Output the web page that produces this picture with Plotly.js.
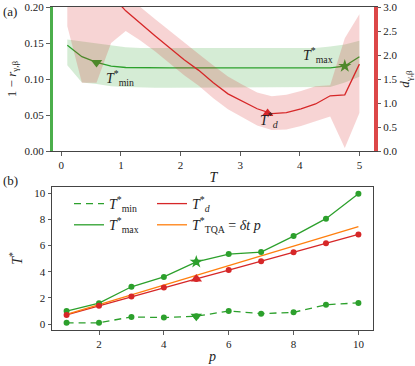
<!DOCTYPE html>
<html>
<head>
<meta charset="utf-8">
<script src="https://cdn.plot.ly/plotly-3.0.1.min.js"></script>
<style>
  html, body { margin: 0; padding: 0; background: #fff; }
  #chart { width: 415px; height: 366px; }
</style>
</head>
<body>
<div id="chart"></div>
<script>
// panel (a): grid of annealing times T
const tGrid = [0.1, 0.345, 0.59, 0.835, 1.08, 1.325, 1.57, 1.815, 2.06, 2.305, 2.55,
               2.795, 3.04, 3.285, 3.53, 3.775, 4.02, 4.265, 4.51, 4.755, 5.0];
// 1 - r (left axis)
const rMean  = [0.147, 0.131, 0.123, 0.118, 0.116, 0.1155, 0.1155, 0.1155, 0.1155, 0.1155, 0.1155,
                0.1155, 0.1155, 0.1155, 0.1155, 0.1155, 0.1155, 0.1155, 0.1155, 0.118, 0.131];
const rLow   = [0.119, 0.095, 0.093, 0.090, 0.089, 0.088, 0.088, 0.088, 0.088, 0.088, 0.088,
                0.088, 0.088, 0.088, 0.088, 0.088, 0.088, 0.088, 0.089, 0.095, 0.103];
const rHigh  = [0.155, 0.152, 0.150, 0.147, 0.144, 0.143, 0.143, 0.143, 0.143, 0.143, 0.143,
                0.143, 0.143, 0.143, 0.143, 0.143, 0.143, 0.143, 0.145, 0.148, 0.153];
// d (right axis)
const dMean  = [4.6, 4.1, 3.7, 3.25, 2.92, 2.65, 2.4, 2.15, 1.9, 1.68, 1.42,
                1.19, 1.04, 0.88, 0.78, 0.80, 0.88, 0.98, 1.15, 1.17, 1.81];
const dLow   = [2.6, 1.42, 1.42, 2.25, 2.5, 2.3, 2.08, 1.83, 1.58, 1.36, 1.1,
                0.87, 0.7, 0.53, 0.44, 0.45, 0.52, 0.62, 0.72, 0.06, 0.79];
const dHigh  = [5.2, 4.6, 4.2, 3.7, 3.3, 3.0, 2.75, 2.5, 2.25, 2.02, 1.78,
                1.55, 1.38, 1.22, 1.14, 1.17, 1.25, 1.35, 1.37, 2.35, 2.85];
const tMinPt = [0.59], rMinPt = [0.123];
const tMaxPt = [4.755], rMaxPt = [0.118];
const tDPt = [3.46], dDPt = [0.78];

// panel (b): optimal times vs depth p
const pVals   = [1, 2, 3, 4, 5, 6, 7, 8, 9, 10];
const tMinVal = [0.1, 0.1, 0.55, 0.5, 0.6, 1.0, 0.8, 0.9, 1.48, 1.62];
const tMaxVal = [1.0, 1.6, 2.85, 3.6, 4.75, 5.35, 5.5, 6.72, 8.05, 9.95];
const tDVal   = [0.7, 1.4, 2.1, 2.8, 3.45, 4.13, 4.8, 5.48, 6.17, 6.85];
const tqaP    = [1, 10];
const tqaVal  = [0.75, 7.45];
const pMark = [5];

const green = "#2ca02c", red = "#d62728", orange = "#ff7f0e";
const F = "'Liberation Serif', 'DejaVu Serif', serif";

let data = [
    { x: tGrid, y: rLow, xaxis: "x", yaxis: "y", mode: "lines", line: { width: 0 }, showlegend: false, hoverinfo: "skip" },
    { x: tGrid, y: rHigh, xaxis: "x", yaxis: "y", mode: "lines", line: { width: 0 }, fill: "tonexty",
      fillcolor: "rgba(44,160,44,0.2)", showlegend: false },
    { x: tGrid, y: dLow, xaxis: "x", yaxis: "y2", mode: "lines", line: { width: 0 }, showlegend: false },
    { x: tGrid, y: dHigh, xaxis: "x", yaxis: "y2", mode: "lines", line: { width: 0 }, fill: "tonexty",
      fillcolor: "rgba(214,39,40,0.2)", showlegend: false },
    { x: tGrid, y: rMean, xaxis: "x", yaxis: "y", mode: "lines", line: { color: green, width: 1.3 }, showlegend: false },
    { x: tGrid, y: dMean, xaxis: "x", yaxis: "y2", mode: "lines", line: { color: red, width: 1.3 }, showlegend: false },
    { x: tMinPt, y: rMinPt, xaxis: "x", yaxis: "y", mode: "markers",
      marker: { symbol: "triangle-down", size: 10, color: green }, showlegend: false },
    { x: tMaxPt, y: rMaxPt, xaxis: "x", yaxis: "y", mode: "markers",
      marker: { symbol: "star", size: 10, color: green }, showlegend: false },
    { x: tDPt, y: dDPt, xaxis: "x", yaxis: "y2", mode: "markers",
      marker: { symbol: "triangle-up", size: 10, color: red }, showlegend: false },

    // panel (b)
    { x: pVals, y: tMinVal, xaxis: "x3", yaxis: "y3", mode: "lines", name: "<i>T</i><sup>*</sup><sub>min</sub>",
      line: { color: green, width: 1.3, dash: "7px,5px" }, legend: "legend" },
    { x: pVals, y: tMaxVal, xaxis: "x3", yaxis: "y3", mode: "lines", name: "<i>T</i><sup>*</sup><sub>max</sub>",
      line: { color: green, width: 1.3 }, legend: "legend" },
    { x: pVals, y: tDVal, xaxis: "x3", yaxis: "y3", mode: "lines", name: "<i>T</i><sup>*</sup><sub><i>d</i></sub>",
      line: { color: red, width: 1.3 }, legend: "legend2" },
    { x: tqaP, y: tqaVal, xaxis: "x3", yaxis: "y3", mode: "lines", name: "<i>T</i><sup>*</sup><sub>TQA</sub> = <i>δt p</i>",
      line: { color: orange, width: 1.3 }, legend: "legend2" },
    { x: pVals, y: tMinVal, xaxis: "x3", yaxis: "y3", mode: "markers", marker: { color: green, size: 6 }, showlegend: false },
    { x: pVals, y: tMaxVal, xaxis: "x3", yaxis: "y3", mode: "markers", marker: { color: green, size: 6 }, showlegend: false },
    { x: pVals, y: tDVal, xaxis: "x3", yaxis: "y3", mode: "markers", marker: { color: red, size: 6 }, showlegend: false },
    { x: pMark, y: [tMinVal[4]], xaxis: "x3", yaxis: "y3", mode: "markers",
      marker: { symbol: "triangle-down", size: 10, color: green }, showlegend: false },
    { x: pMark, y: [tMaxVal[4]], xaxis: "x3", yaxis: "y3", mode: "markers",
      marker: { symbol: "star", size: 10, color: green }, showlegend: false },
    { x: pMark, y: [tDVal[4]], xaxis: "x3", yaxis: "y3", mode: "markers",
      marker: { symbol: "triangle-up", size: 10, color: red }, showlegend: false }
];

const axisBase = {
    showgrid: false, zeroline: false, ticks: "outside", ticklen: 3.5, tickwidth: 0.8,
    tickcolor: "#333", showline: true, linecolor: "#444", linewidth: 1,
    tickfont: { family: F, size: 11, color: "#222" }, automargin: false
};

let layout = {
    width: 415, height: 366,
    margin: { l: 0, r: 0, t: 0, b: 0 },
    paper_bgcolor: "#fff", plot_bgcolor: "#fff",
    font: { family: F, color: "#222" },
    xaxis: Object.assign({}, axisBase, {
        domain: [53 / 415, 374 / 415], anchor: "y", range: [-0.14, 5.245],
        tickvals: [0, 1, 2, 3, 4, 5], mirror: true,
        title: { text: "<i>T</i>", font: { family: F, size: 14 }, standoff: 2 }
    }),
    yaxis: Object.assign({}, axisBase, {
        domain: [1 - 151 / 366, 1 - 7 / 366], anchor: "x", range: [0, 0.2],
        tickvals: [0, 0.05, 0.1, 0.15, 0.2], tickformat: ".2f",
        linecolor: "rgba(44,160,44,0.85)", linewidth: 3.5,
        title: { text: "1 − <i>r</i><sub>γ,β</sub>", font: { family: F, size: 13 }, standoff: 6 }
    }),
    yaxis2: Object.assign({}, axisBase, {
        overlaying: "y", side: "right", anchor: "x", range: [0, 3],
        tickvals: [0, 0.5, 1, 1.5, 2, 2.5, 3], tickformat: ".1f",
        linecolor: "rgba(214,39,40,0.85)", linewidth: 3.5,
        title: { text: "<i>d</i><sub>γ,β</sub>", font: { family: F, size: 13 }, standoff: 4 }
    }),
    xaxis3: Object.assign({}, axisBase, {
        domain: [52 / 415, 373 / 415], anchor: "y3", range: [0.55, 10.45],
        tickvals: [2, 4, 6, 8, 10], mirror: true,
        title: { text: "<i>p</i>", font: { family: F, size: 14 }, standoff: 2 }
    }),
    yaxis3: Object.assign({}, axisBase, {
        domain: [1 - 330 / 366, 1 - 187 / 366], anchor: "x3", range: [-0.45, 10.47],
        tickvals: [0, 2, 4, 6, 8, 10], mirror: true,
        title: { text: "<i>T</i><sup>*</sup>", font: { family: F, size: 14 }, standoff: 8 }
    }),
    legend: {
        x: 69 / 415, y: 1 - 188 / 366, xanchor: "left", yanchor: "top", traceorder: "normal",
        bgcolor: "rgba(0,0,0,0)", font: { family: F, size: 14 }, tracegroupgap: 0
    },
    legend2: {
        x: 152 / 415, y: 1 - 188 / 366, xanchor: "left", yanchor: "top", traceorder: "normal",
        bgcolor: "rgba(0,0,0,0)", font: { family: F, size: 14 }, tracegroupgap: 0
    },
    annotations: [
        { text: "(a)", xref: "paper", yref: "paper", x: 1 / 415, y: 1 - 2 / 366, xanchor: "left", yanchor: "top",
          showarrow: false, font: { family: F, size: 13 } },
        { text: "(b)", xref: "paper", yref: "paper", x: 1 / 415, y: 1 - 171 / 366, xanchor: "left", yanchor: "top",
          showarrow: false, font: { family: F, size: 13 } },
        { text: "<i>T</i><sup>*</sup><sub>min</sub>", xref: "x", yref: "y", x: 0.72, y: 0.102, xanchor: "left",
          showarrow: false, font: { family: F, size: 14 } },
        { text: "<i>T</i><sup>*</sup><sub>max</sub>", xref: "x", yref: "y", x: 4.02, y: 0.133, xanchor: "left",
          showarrow: false, font: { family: F, size: 14 } },
        { text: "<i>T</i><sup>*</sup><sub><i>d</i></sub>", xref: "x", yref: "y", x: 3.3, y: 0.043, xanchor: "left",
          showarrow: false, font: { family: F, size: 14 } }
    ]
};

Plotly.newPlot("chart", data, layout, { staticPlot: true, displayModeBar: false });
</script>
</body>
</html>
